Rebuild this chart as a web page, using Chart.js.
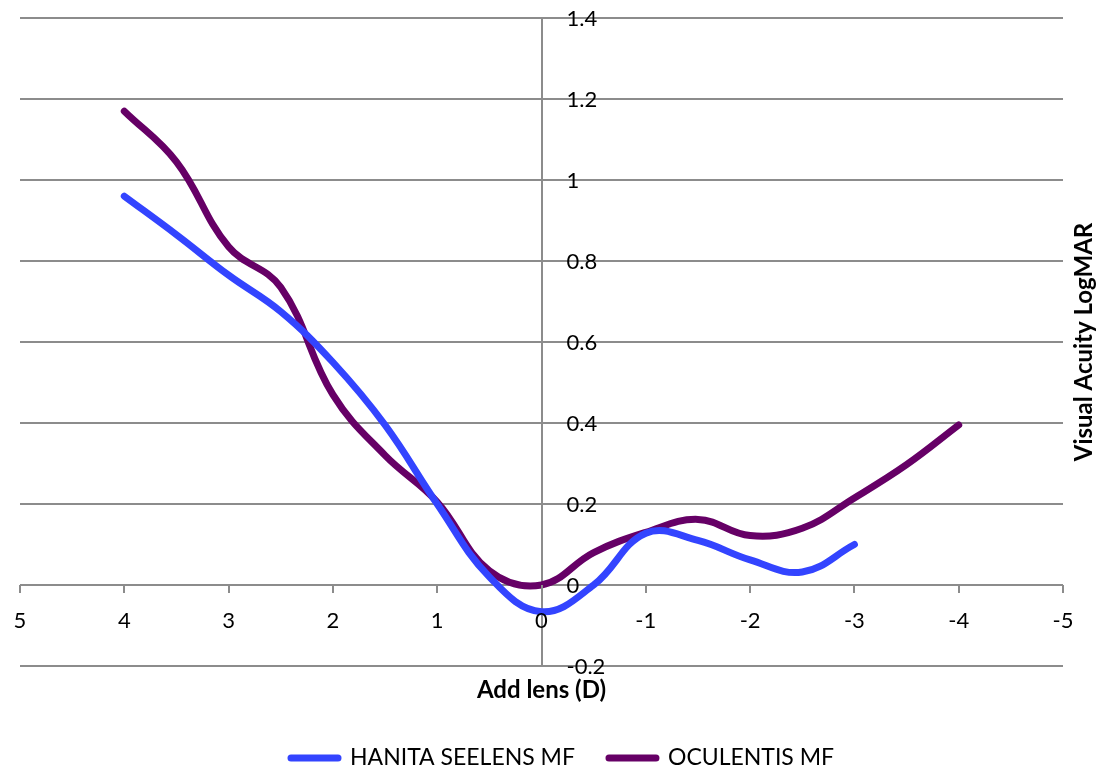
<!DOCTYPE html>
<html>
<head>
<meta charset="utf-8">
<script src="https://cdn.jsdelivr.net/npm/chart.js@4/dist/chart.umd.min.js"></script>
<style>
  html, body { margin: 0; padding: 0; background: #fff; }
  #wrap { width: 1099px; height: 771px; position: relative; }
</style>
</head>
<body>
<div id="wrap"><canvas id="c" width="1099" height="771"></canvas></div>
<script>
// Add lens power (D) at which acuity was measured
const addLensHanita = [4, 3.5, 3, 2.5, 2, 1.5, 1, 0.5, 0, -0.5, -1, -1.5, -2, -2.5, -3];
const acuityHanita  = [0.96, 0.865, 0.765, 0.675, 0.55, 0.395, 0.2, 0.02, -0.066, 0.0, 0.128, 0.11, 0.062, 0.032, 0.1];

const addLensOculentis = [4, 3.5, 3, 2.5, 2, 1.5, 1, 0.5, 0, -0.5, -1, -1.5, -2, -2.5, -3, -3.5, -4];
const acuityOculentis  = [1.17, 1.045, 0.835, 0.735, 0.47, 0.32, 0.205, 0.035, 0.0, 0.08, 0.13, 0.162, 0.122, 0.14, 0.215, 0.297, 0.395];

const seriesNames = ['HANITA SEELENS MF', 'OCULENTIS MF'];
const seriesColors = ['#3344ff', '#660066'];

const xTickLabels = ['5', '4', '3', '2', '1', '0', '-1', '-2', '-3', '-4', '-5'];
const yTickLabels = ['1.4', '1.2', '1', '0.8', '0.6', '0.4', '0.2', '0', '-0.2'];
const xTitle = 'Add lens (D)';
const yTitle = 'Visual Acuity LogMAR';

const GRID = '#8c8c8c';
const FONT = 'Lato, "Open Sans", sans-serif';

const toPoints = (xs, ys) => xs.map((x, i) => ({ x: x, y: ys[i] }));

// Axis labels, x tick marks, titles and legend, placed with the chart's scales
const decorations = {
  id: 'decorations',
  afterDraw(chart) {
    const ctx = chart.ctx;
    const xs = chart.scales.x, ys = chart.scales.y;
    const x0 = xs.getPixelForValue(0);
    const y0 = ys.getPixelForValue(0);
    ctx.save();

    // tick marks below the zero line
    ctx.strokeStyle = GRID;
    ctx.lineWidth = 2;
    xTickLabels.forEach(t => {
      const px = Math.round(xs.getPixelForValue(parseFloat(t)));
      ctx.beginPath();
      ctx.moveTo(px, y0);
      ctx.lineTo(px, y0 + 8);
      ctx.stroke();
    });

    ctx.fillStyle = '#000';
    ctx.font = '22px ' + FONT;
    ctx.textAlign = 'center';
    ctx.textBaseline = 'middle';
    xTickLabels.forEach(t => {
      ctx.fillText(t, xs.getPixelForValue(parseFloat(t)), y0 + 36);
    });

    ctx.textAlign = 'left';
    yTickLabels.forEach(t => {
      ctx.fillText(t, x0 + 25, ys.getPixelForValue(parseFloat(t)) + 1);
    });

    // axis titles
    ctx.font = 'bold 24px ' + FONT;
    ctx.textAlign = 'center';
    ctx.fillText(xTitle, x0, chart.chartArea.bottom + 24);

    ctx.save();
    ctx.translate(1084, (chart.chartArea.top + chart.chartArea.bottom) / 2);
    ctx.rotate(-Math.PI / 2);
    ctx.fillText(yTitle, 0, 0);
    ctx.restore();

    // legend
    ctx.font = '23px ' + FONT;
    ctx.textAlign = 'left';
    let lx = 291;
    const ly = 758;
    chart.data.datasets.forEach((ds, i) => {
      ctx.strokeStyle = ds.borderColor;
      ctx.lineWidth = 7;
      ctx.lineCap = 'round';
      ctx.beginPath();
      ctx.moveTo(lx, ly);
      ctx.lineTo(lx + 47, ly);
      ctx.stroke();
      ctx.fillStyle = '#000';
      ctx.fillText(ds.label, lx + 59, ly);
      lx += 59 + ctx.measureText(ds.label).width + 34;
    });

    ctx.restore();
  }
};

new Chart(document.getElementById('c'), {
  type: 'line',
  data: {
    datasets: [
      {
        label: seriesNames[0],
        data: toPoints(addLensHanita, acuityHanita),
        borderColor: seriesColors[0],
        backgroundColor: seriesColors[0],
        borderWidth: 7,
        pointRadius: 0,
        tension: 0.4,
        borderCapStyle: 'round',
        borderJoinStyle: 'round',
        fill: false
      },
      {
        label: seriesNames[1],
        data: toPoints(addLensOculentis, acuityOculentis),
        borderColor: seriesColors[1],
        backgroundColor: seriesColors[1],
        borderWidth: 7,
        pointRadius: 0,
        tension: 0.4,
        borderCapStyle: 'round',
        borderJoinStyle: 'round',
        fill: false
      }
    ]
  },
  options: {
    responsive: false,
    animation: false,
    layout: { padding: { left: 20, right: 36, top: 18, bottom: 105 } },
    plugins: {
      legend: { display: false },
      tooltip: { enabled: false }
    },
    scales: {
      x: {
        type: 'linear',
        reverse: true,
        min: -5,
        max: 5,
        ticks: { display: false, stepSize: 1 },
        border: { display: false },
        grid: {
          drawTicks: false,
          lineWidth: 2,
          color: c => (c.tick && c.tick.value === 0 ? GRID : 'rgba(0,0,0,0)')
        }
      },
      y: {
        type: 'linear',
        min: -0.2,
        max: 1.4,
        ticks: { display: false, stepSize: 0.2 },
        border: { display: false },
        grid: { drawTicks: false, lineWidth: 2, color: GRID }
      }
    }
  },
  plugins: [decorations]
});
</script>
</body>
</html>
